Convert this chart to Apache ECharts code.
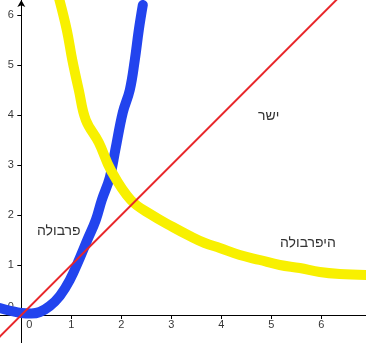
<!DOCTYPE html>
<html><head><meta charset="utf-8">
<script src="https://cdn.jsdelivr.net/npm/echarts@6/dist/echarts.min.js"></script>
<style>html,body{margin:0;padding:0;background:#fff}#c{width:366px;height:343px}</style>
</head><body><div id="c"></div>
<script>
const xTicks = [0, 1, 2, 3, 4, 5, 6];
const yTicks = [0, 1, 2, 3, 4, 5, 6];
const lineData = [[-0.5, -0.5], [7, 7]];
const parabolaData = [[-0.43,0.14],[-0.2,0.08],[0,0.04],[0.2,0.03],[0.37,0.06],[0.57,0.18],[0.77,0.38],[0.97,0.70],[1.17,1.14],[1.32,1.5],[1.49,1.9],[1.61,2.3],[1.77,2.75],[1.88,3.3],[2.03,4.05],[2.17,4.5],[2.27,5.1],[2.35,5.7],[2.43,6.2]];
const hyperbolaData = [[0.75,6.35],[0.91,5.7],[1.02,5.1],[1.15,4.5],[1.29,3.9],[1.55,3.45],[1.79,2.9],[2.19,2.3],[2.61,2.0],[3.03,1.76],[3.37,1.58],[3.67,1.44],[3.97,1.34],[4.37,1.2],[4.77,1.1],[5.17,1.0],[5.57,0.94],[5.97,0.86],[6.37,0.82],[6.9,0.8]];
const labelLine = 'ישר';
const labelHyperbola = 'היפרבולה';
const labelParabola = 'פרבולה';

const chart = echarts.init(document.getElementById('c'));
const fontFamily = 'Liberation Sans, Arial, sans-serif';
const hebFont = '14px "Liberation Sans", Arial, sans-serif';
function tickLabelSeries(points, position, distance, zeroOffset) {
  return {
    type:'scatter', z:1, silent:true, symbolSize:1,
    itemStyle:{color:'rgba(0,0,0,0)'},
    data: points.map(p => ({value:p.value, label:p.zero ? {offset:zeroOffset} : {}})),
    label:{show:true, position, distance, color:'#000', fontSize:11, fontFamily,
      formatter: prm => String(points[prm.dataIndex].text)}
  };
}
const xLabelPoints = xTicks.map(v => ({value:[v,0], text:v, zero:v===0}));
const yLabelPoints = yTicks.map(v => ({value:[0,v], text:v, zero:v===0}));

chart.setOption({
  animation:false,
  backgroundColor:'#fff',
  grid:{left:0,right:0,top:0,bottom:0,containLabel:false,outerBoundsMode:'none'},
  xAxis:{type:'value',min:-0.426,max:6.894,
    axisLine:{onZero:true,lineStyle:{color:'#000',width:1}},
    axisTick:{show:true,length:4,customValues:xTicks.filter(v=>v!==0),lineStyle:{color:'#000'}},
    axisLabel:{show:false},
    splitLine:{show:false}},
  yAxis:{type:'value',min:-0.56,max:6.3,
    axisLine:{onZero:true,lineStyle:{color:'#000',width:1},symbol:['none','arrow'],symbolSize:[6,7]},
    axisTick:{show:true,length:4,customValues:yTicks.filter(v=>v!==0),lineStyle:{color:'#000'}},
    axisLabel:{show:false},
    splitLine:{show:false}},
  graphic:[
    {type:'text',z:0,left:37,top:224,style:{text:labelParabola,fill:'#333',font:hebFont}},
    {type:'text',z:0,left:258,top:109,style:{text:labelLine,fill:'#333',font:hebFont}},
    {type:'text',z:0,left:280,top:236,style:{text:labelHyperbola,fill:'#333',font:hebFont}}
  ],
  series:[
    tickLabelSeries(xLabelPoints,'bottom',4,[8,0]),
    tickLabelSeries(yLabelPoints,'left',7,[0,-8]),
    {type:'line',z:3,data:parabolaData,smooth:0.4,showSymbol:false,lineStyle:{color:'#2244ee',width:10,cap:'round',join:'round'}},
    {type:'line',z:4,data:hyperbolaData,smooth:0.4,showSymbol:false,lineStyle:{color:'#f8f000',width:10,cap:'round',join:'round'}},
    {type:'line',z:5,data:lineData,showSymbol:false,lineStyle:{color:'#e8262a',width:2}}
  ]
});
</script></body></html>
